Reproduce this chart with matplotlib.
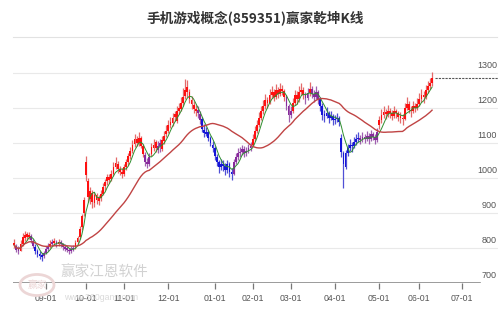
import matplotlib
matplotlib.use("Agg")
import matplotlib.pyplot as plt
import numpy as np
import pandas as pd
from matplotlib.lines import Line2D
from matplotlib.patches import Circle, Rectangle

# ---------------- data ----------------
title = "手机游戏概念(859351)赢家乾坤K线"
start_date = "2024-08-12"
axis_end_date = "2025-07-31"
holidays = ["2024-09-16", "2024-09-17", "2024-10-01", "2024-10-02", "2024-10-03",
            "2024-10-04", "2024-10-07", "2025-01-01", "2025-01-28", "2025-01-29",
            "2025-01-30", "2025-01-31", "2025-02-03", "2025-02-04", "2025-04-04",
            "2025-05-01", "2025-05-02", "2025-05-05", "2025-06-02"]
month_ticks = ["2024-09", "2024-10", "2024-11", "2024-12", "2025-01", "2025-02",
               "2025-03", "2025-04", "2025-05", "2025-06", "2025-07"]
month_labels = ["09-01", "10-01", "11-01", "12-01", "01-01", "02-01",
                "03-01", "04-01", "05-01", "06-01", "07-01"]
y_ticks = [700, 800, 900, 1000, 1100, 1200, 1300]

opens = [815, 806, 796, 792, 810, 828, 840, 830, 835, 820, 804, 790, 784, 776, 776,
         786, 798, 806, 812, 815, 818, 812, 816, 810, 803, 798, 795, 790, 796, 802,
         818, 830, 860, 900, 1045, 990, 940, 958, 928, 950, 935, 942, 955, 976, 990,
         1002, 996, 1012, 1032, 1040, 1025, 1018, 1012, 1030, 1046, 1062, 1078, 1096, 1112, 1100,
         1114, 1090, 1066, 1045, 1040, 1068, 1085, 1103, 1079, 1101, 1083, 1105, 1125, 1135, 1150,
         1157, 1183, 1163, 1190, 1198, 1214, 1234, 1259, 1246, 1223, 1208, 1196, 1193, 1183, 1168,
         1138, 1127, 1132, 1113, 1095, 1085, 1060, 1045, 1030, 1040, 1035, 1022, 1040, 1018, 1012,
         1045, 1060, 1070, 1075, 1082, 1070, 1076, 1085, 1095, 1110, 1135, 1150, 1172, 1190, 1205,
         1222, 1215, 1238, 1245, 1232, 1250, 1240, 1255, 1248, 1230, 1205, 1180, 1192, 1215, 1238,
         1225, 1245, 1252, 1238, 1228, 1242, 1255, 1240, 1232, 1245, 1226, 1205, 1180, 1178, 1185,
         1172, 1176, 1165, 1168, 1172, 1115, 1070, 1030, 1070, 1085, 1095, 1090, 1102, 1110, 1115,
         1108, 1118, 1112, 1120, 1110, 1125, 1118, 1108, 1150, 1165, 1180, 1188, 1182, 1192, 1185,
         1178, 1190, 1185, 1175, 1172, 1168, 1200, 1212, 1195, 1190, 1205, 1200, 1210, 1225, 1238,
         1230, 1250, 1262, 1270]
highs = [825, 812, 805, 822, 842, 848, 846, 845, 840, 826, 810, 796, 790, 786, 792,
         806, 815, 822, 826, 828, 824, 826, 822, 815, 810, 805, 800, 805, 808, 822,
         835, 862, 898, 945, 1062, 1000, 975, 965, 960, 958, 952, 965, 985, 996, 1012,
         1010, 1022, 1045, 1060, 1048, 1035, 1028, 1040, 1055, 1072, 1088, 1108, 1125, 1120, 1130,
         1120, 1098, 1075, 1058, 1072, 1100, 1110, 1109, 1105, 1110, 1120, 1133, 1150, 1165, 1175,
         1187, 1192, 1205, 1215, 1231, 1257, 1284, 1281, 1255, 1233, 1221, 1209, 1205, 1190, 1175,
         1153, 1145, 1137, 1120, 1105, 1090, 1068, 1052, 1055, 1050, 1042, 1052, 1045, 1028, 1055,
         1072, 1085, 1088, 1095, 1090, 1088, 1098, 1102, 1125, 1148, 1165, 1188, 1205, 1222, 1240,
         1232, 1255, 1262, 1255, 1268, 1260, 1272, 1265, 1255, 1238, 1212, 1205, 1228, 1252, 1248,
         1262, 1272, 1260, 1245, 1258, 1275, 1262, 1250, 1262, 1252, 1232, 1215, 1195, 1202, 1190,
         1192, 1182, 1180, 1185, 1178, 1125, 1078, 1080, 1098, 1110, 1102, 1118, 1125, 1132, 1122,
         1130, 1125, 1135, 1128, 1138, 1132, 1125, 1142, 1178, 1198, 1205, 1198, 1208, 1200, 1195,
         1205, 1198, 1192, 1188, 1182, 1215, 1232, 1220, 1205, 1220, 1215, 1228, 1242, 1255, 1248,
         1265, 1278, 1285, 1303]
lows = [800, 788, 784, 790, 806, 820, 824, 825, 815, 800, 784, 775, 768, 762, 772,
        782, 792, 800, 805, 808, 804, 806, 802, 795, 790, 788, 784, 786, 790, 798,
        810, 826, 852, 892, 990, 930, 925, 915, 918, 925, 922, 935, 950, 965, 980,
        985, 990, 1005, 1025, 1015, 1008, 1000, 1005, 1022, 1038, 1055, 1070, 1088, 1090, 1092,
        1085, 1060, 1035, 1028, 1035, 1063, 1077, 1075, 1072, 1075, 1078, 1097, 1118, 1128, 1142,
        1149, 1162, 1157, 1183, 1191, 1207, 1227, 1231, 1215, 1198, 1186, 1176, 1172, 1155, 1130,
        1118, 1119, 1105, 1090, 1075, 1052, 1035, 1015, 1022, 1020, 1008, 1015, 1002, 995, 1008,
        1040, 1052, 1060, 1066, 1060, 1062, 1070, 1078, 1090, 1105, 1128, 1145, 1165, 1182, 1198,
        1200, 1210, 1228, 1220, 1225, 1228, 1235, 1238, 1220, 1195, 1160, 1170, 1185, 1208, 1212,
        1218, 1238, 1225, 1210, 1222, 1235, 1228, 1218, 1225, 1212, 1192, 1165, 1160, 1170, 1158,
        1165, 1150, 1155, 1160, 1148, 1060, 972, 1025, 1062, 1078, 1075, 1085, 1095, 1102, 1096,
        1102, 1100, 1106, 1098, 1105, 1108, 1098, 1102, 1140, 1158, 1172, 1168, 1175, 1172, 1165,
        1172, 1170, 1162, 1158, 1152, 1165, 1195, 1185, 1175, 1185, 1188, 1195, 1205, 1218, 1215,
        1225, 1242, 1255, 1262]
closes = [808, 795, 790, 812, 830, 838, 832, 836, 822, 805, 790, 782, 778, 775, 785,
          798, 805, 812, 816, 818, 812, 817, 810, 803, 798, 795, 791, 796, 800, 815,
          828, 855, 890, 938, 1008, 945, 962, 930, 952, 936, 942, 955, 975, 988, 1002,
          995, 1012, 1030, 1042, 1025, 1018, 1012, 1030, 1045, 1062, 1078, 1095, 1110, 1100, 1115,
          1092, 1068, 1045, 1040, 1060, 1088, 1095, 1085, 1092, 1090, 1108, 1120, 1135, 1150, 1160,
          1172, 1175, 1190, 1200, 1215, 1232, 1250, 1245, 1225, 1210, 1198, 1190, 1185, 1165, 1140,
          1128, 1132, 1115, 1100, 1085, 1062, 1045, 1030, 1040, 1035, 1022, 1040, 1018, 1010, 1045,
          1060, 1070, 1075, 1082, 1070, 1076, 1085, 1092, 1110, 1135, 1150, 1172, 1190, 1205, 1222,
          1215, 1238, 1245, 1232, 1250, 1240, 1255, 1248, 1230, 1205, 1180, 1192, 1215, 1238, 1225,
          1245, 1252, 1238, 1228, 1242, 1255, 1240, 1232, 1245, 1226, 1205, 1180, 1178, 1185, 1172,
          1176, 1165, 1168, 1172, 1160, 1075, 1040, 1070, 1085, 1095, 1090, 1102, 1110, 1115, 1108,
          1118, 1112, 1120, 1110, 1125, 1118, 1108, 1130, 1165, 1180, 1188, 1182, 1192, 1185, 1178,
          1190, 1185, 1175, 1172, 1168, 1200, 1212, 1195, 1190, 1205, 1200, 1210, 1225, 1238, 1230,
          1250, 1262, 1270, 1286]
# trend state of each candle: r = strong, p = neutral, b = weak (run lengths)
state_runs = [("r", 1), ("p", 2), ("r", 5), ("p", 2), ("b", 4), ("p", 3), ("r", 1), ("p", 1),
              ("r", 1), ("p", 1), ("r", 1), ("p", 7), ("r", 33), ("p", 3), ("r", 3), ("p", 2),
              ("r", 17), ("p", 2), ("b", 15), ("p", 9), ("r", 16), ("p", 3), ("r", 6), ("p", 2),
              ("r", 1), ("p", 4), ("b", 19), ("p", 9), ("r", 26)]

# ---------------- calendar ----------------
days = pd.bdate_range(start_date, axis_end_date)
days = days[~days.isin(pd.to_datetime(holidays))]
n = len(closes)
xs = np.arange(n)
states = "".join(c * k for c, k in state_runs)

tick_pos = []
for m in month_ticks:
    first = days[days.strftime("%Y-%m") == m][0]
    tick_pos.append(int(np.where(days == first)[0][0]))

ma_short = pd.Series(closes, dtype=float).rolling(5, min_periods=1).mean()
ma_long = pd.Series(closes, dtype=float).rolling(30, min_periods=1).mean()

# ---------------- figure ----------------
W, H = 499, 309
fig = plt.figure(figsize=(W / 100, H / 100), dpi=100)
fig.patch.set_facecolor("white")
ax_l, ax_r, ax_b, ax_t = 13, 498, 283, 59
ax = fig.add_axes([ax_l / W, 1 - ax_b / H, (ax_r - ax_l) / W, (ax_b - ax_t) / H])
ax.set_facecolor("white")

px_per_day = 2.11
x_left = -0.6
x_right = x_left + (ax_r - ax_l) / px_per_day
ax.set_xlim(x_left, x_right)
ymin, ymax = 700, 700 + (ax_b - ax_t) / 0.35
ax.set_ylim(ymin, ymax)

for s in ax.spines.values():
    s.set_visible(False)

# grid lines
for v in y_ticks[1:]:
    ax.axhline(v, color="#e9e9e9", lw=0.8, zorder=0)
# axis line (shorter than grid)
axis_end = (480 - ax_l) / (ax_r - ax_l)
ax.axhline(700, xmin=0, xmax=axis_end, color="#8a8a8a", lw=1.2, zorder=1)

# y labels inside, above grid lines
for v in y_ticks:
    ax.annotate(str(v), xy=((497 - ax_l) / (ax_r - ax_l), v), xycoords=("axes fraction", "data"),
                xytext=(0, 1.8), textcoords="offset points", ha="right", va="bottom",
                fontsize=6.5, color="#555555", family="Liberation Sans")
ax.set_yticks([])

ax.set_xticks(tick_pos)
ax.set_xticklabels(month_labels, fontsize=6.3, color="#555555", family="Liberation Sans")
ax.tick_params(axis="x", length=4.5, width=0.9, color="#777777", direction="out", pad=3.5)

# candles
body_col = {"r": "#ff0f0f", "b": "#1515d8", "p": "#882a9c"}
wick_col = {"r": "#e46a6a", "b": "#5050d6", "p": "#a060b0"}
for i in xs:
    st = states[i]
    ax.plot([i, i], [lows[i], highs[i]], color=wick_col[st], lw=0.9, zorder=3,
            solid_capstyle="butt")
    lo, hi = min(opens[i], closes[i]), max(opens[i], closes[i])
    if hi - lo < 4:
        hi = lo + 4
    ax.add_patch(Rectangle((i - 0.42, lo), 0.84, hi - lo, facecolor=body_col[st],
                           edgecolor="none", zorder=4))

ax.plot(xs, ma_short, color="#2f8f2f", lw=0.7, zorder=5)
ax.plot(xs, ma_long, color="#c04444", lw=1.0, zorder=5)

# last price dotted line
ax.plot([n + 0.3, x_right], [closes[-1], closes[-1]], color="#555555", lw=0.8,
        linestyle=(0, (2, 1)), zorder=2, clip_on=False)

# title and separator
fig.text(255 / W, 1 - 18 / H, title, ha="center", va="center", fontsize=9.8,
         fontweight="bold", color="#333333", family=["Noto Sans CJK SC", "DejaVu Sans"])
fig.add_artist(Line2D([13 / W, 497 / W], [1 - 37 / H, 1 - 37 / H], color="#e2e2e2", lw=0.8))

# watermark
fig.add_artist(Circle((37 / W, 1 - 285 / H), 17 / W, transform=fig.transFigure,
                      facecolor="none", edgecolor="#ecd6d6", lw=2.0))
fig.text(37 / W, 1 - 285 / H, "赢家", ha="center", va="center", fontsize=7,
         color="#ecd6d6", family=["Noto Sans CJK SC", "DejaVu Sans"])
fig.text(60 / W, 1 - 273 / H, "赢家江恩软件", ha="left", va="center", fontsize=10.5,
         color="#d2d2d2", family=["Noto Sans CJK SC", "DejaVu Sans"])
fig.text(64 / W, 1 - 298 / H, "www.360gann.com", ha="left", va="center", fontsize=6.3,
         color="#dadada", family="Liberation Sans")

fig.savefig("out.png", dpi=100, facecolor="white")
